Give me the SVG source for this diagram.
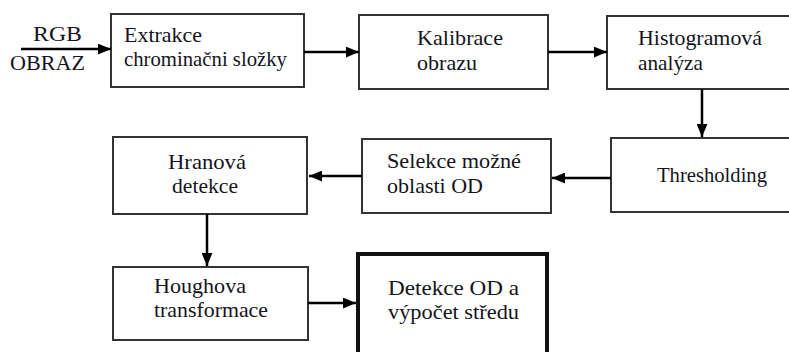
<svg xmlns="http://www.w3.org/2000/svg" width="789" height="352" viewBox="0 0 789 352">
<defs>
<marker id="ah" viewBox="0 0 12 10" refX="12" refY="5" markerWidth="13" markerHeight="11" markerUnits="userSpaceOnUse" orient="auto">
<path d="M0,0 L12,5 L0,10 Z" fill="#000"/>
</marker>
<style>
.box{fill:#fff;stroke:#333;stroke-width:2}
.thick{fill:#fff;stroke:#111;stroke-width:4}
text{font-family:'Liberation Serif','Times New Roman','DejaVu Serif',serif;font-size:21px;fill:#141420}
.c{fill:none;stroke:#000;stroke-width:2.5;marker-end:url(#ah)}
</style>
</defs>
<rect width="789" height="352" fill="#fff"/>
<g id="input">
<text x="33" y="41" textLength="49" lengthAdjust="spacingAndGlyphs">RGB</text>
<text x="10" y="70" textLength="75" lengthAdjust="spacingAndGlyphs">OBRAZ</text>
</g>
<g id="n1">
<rect class="box" x="111" y="14" width="193" height="73"/>
<text x="124" y="42" textLength="78" lengthAdjust="spacingAndGlyphs">Extrakce</text>
<text x="124" y="66" textLength="163" lengthAdjust="spacingAndGlyphs">chrominačni složky</text>
</g>
<g id="n2">
<rect class="box" x="359" y="15" width="189" height="74"/>
<text x="417" y="45" textLength="86" lengthAdjust="spacingAndGlyphs">Kalibrace</text>
<text x="417" y="70" textLength="60" lengthAdjust="spacingAndGlyphs">obrazu</text>
</g>
<g id="n3">
<rect class="box" x="607" y="16" width="200" height="73"/>
<text x="638" y="45" textLength="124" lengthAdjust="spacingAndGlyphs">Histogramová</text>
<text x="638" y="70" textLength="65" lengthAdjust="spacingAndGlyphs">analýza</text>
</g>
<g id="n4">
<rect class="box" x="611" y="138" width="200" height="74"/>
<text x="657" y="182" textLength="110" lengthAdjust="spacingAndGlyphs">Thresholding</text>
</g>
<g id="n5">
<rect class="box" x="362" y="139" width="189" height="74"/>
<text x="387" y="168" textLength="134" lengthAdjust="spacingAndGlyphs">Selekce možné</text>
<text x="387" y="193" textLength="96" lengthAdjust="spacingAndGlyphs">oblasti OD</text>
</g>
<g id="n6">
<rect class="box" x="113" y="137" width="194" height="77"/>
<text x="168" y="169" textLength="78" lengthAdjust="spacingAndGlyphs">Hranová</text>
<text x="172" y="193" textLength="66" lengthAdjust="spacingAndGlyphs">detekce</text>
</g>
<g id="n7">
<rect class="box" x="113" y="267" width="195" height="73"/>
<text x="154" y="293" textLength="92" lengthAdjust="spacingAndGlyphs">Houghova</text>
<text x="154" y="317" textLength="114" lengthAdjust="spacingAndGlyphs">transformace</text>
</g>
<g id="n8">
<rect class="thick" x="358" y="254" width="189" height="112"/>
<text x="388" y="295" textLength="131" lengthAdjust="spacingAndGlyphs">Detekce OD a</text>
<text x="388" y="319" textLength="131" lengthAdjust="spacingAndGlyphs">výpočet středu</text>
</g>
<g id="connectors">
<line class="c" x1="21" y1="49" x2="111" y2="49"/>
<line class="c" x1="304" y1="52" x2="359" y2="52"/>
<line class="c" x1="548" y1="52" x2="607" y2="52"/>
<line class="c" x1="702" y1="89" x2="702" y2="137"/>
<line class="c" x1="611" y1="178" x2="552" y2="178"/>
<line class="c" x1="362" y1="176" x2="309" y2="176"/>
<line class="c" x1="207" y1="214" x2="207" y2="266"/>
<line class="c" x1="308" y1="303" x2="356" y2="303"/>
</g>
</svg>
